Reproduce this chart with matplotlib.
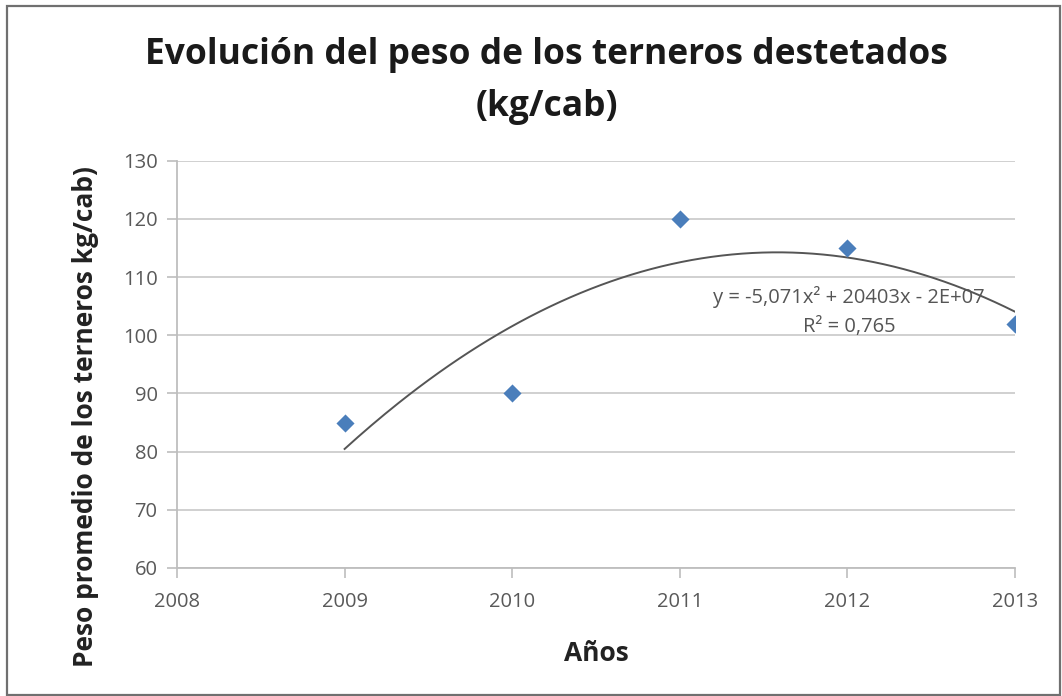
import numpy as np
import matplotlib
matplotlib.use('Agg')
import matplotlib.pyplot as plt
from matplotlib.patches import Rectangle

# Data
years = [2009, 2010, 2011, 2012, 2013]
weights = [85, 90, 120, 115, 102]

x_ticks = [2008, 2009, 2010, 2011, 2012, 2013]
y_ticks = [60, 70, 80, 90, 100, 110, 120, 130]

plt.rcParams['font.family'] = ['Open Sans', 'DejaVu Sans']

fig = plt.figure(figsize=(10.62, 6.96), dpi=100)
ax = fig.add_axes([0.1667, 0.184, 0.789, 0.585])

# Polynomial (order 2) trendline as in the spreadsheet
coef = np.polyfit(np.array(years) - 2011, weights, 2)
xs = np.linspace(years[0], years[-1], 200)
ys = np.polyval(coef, xs - 2011)
ax.plot(xs, ys, color='#555555', lw=1.4, zorder=2)

ax.scatter(years, weights, marker='D', s=85, color='#4A7EBB', zorder=3, linewidths=0)

ax.set_xlim(2008, 2013)
ax.set_ylim(60, 130)
ax.set_xticks(x_ticks)
ax.set_yticks(y_ticks)
ax.grid(axis='y', color='#C8C8C8', lw=1.2)
ax.set_axisbelow(True)
for side in ['top', 'right']:
    ax.spines[side].set_visible(False)
for side in ['left', 'bottom']:
    ax.spines[side].set_color('#BEBEBE')
    ax.spines[side].set_linewidth(1.3)
ax.tick_params(axis='both', colors='#BEBEBE', length=7, width=1.2, labelsize=14.5,
               labelcolor='#595959')
ax.tick_params(axis='x', pad=10)
ax.tick_params(axis='y', pad=7)

ax.set_xlabel('Años', fontsize=19, fontweight='bold', color='#222222')
ax.xaxis.set_label_coords(0.5, (568 - 640) / 407)
ax.set_ylabel('Peso promedio de los terneros kg/cab)', fontsize=19, fontweight='bold',
              color='#222222')
ax.yaxis.set_label_coords((99 - 177) / 838, (568 - 417) / 407)

fig.text(0.515, 1 - 64 / 696, 'Evolución del peso de los terneros destetados',
         ha='center', va='baseline', fontsize=25.5, fontweight='bold', color='#1a1a1a')
fig.text(0.515, 1 - 116 / 696, '(kg/cab)',
         ha='center', va='baseline', fontsize=25.5, fontweight='bold', color='#1a1a1a')

ax.text(2012.01, 106.6, 'y = -5,071x² + 20403x - 2E+07', ha='center', va='center',
        fontsize=14.5, color='#555555')
ax.text(2012.01, 101.45, 'R² = 0,765', ha='center', va='center',
        fontsize=14.5, color='#555555')

# outer chart border
fig.patches.append(Rectangle((0.007, 0.002), 0.991, 0.99, transform=fig.transFigure,
                             fill=False, edgecolor='#707070', lw=1.6))

fig.savefig('out.png', dpi=100)
